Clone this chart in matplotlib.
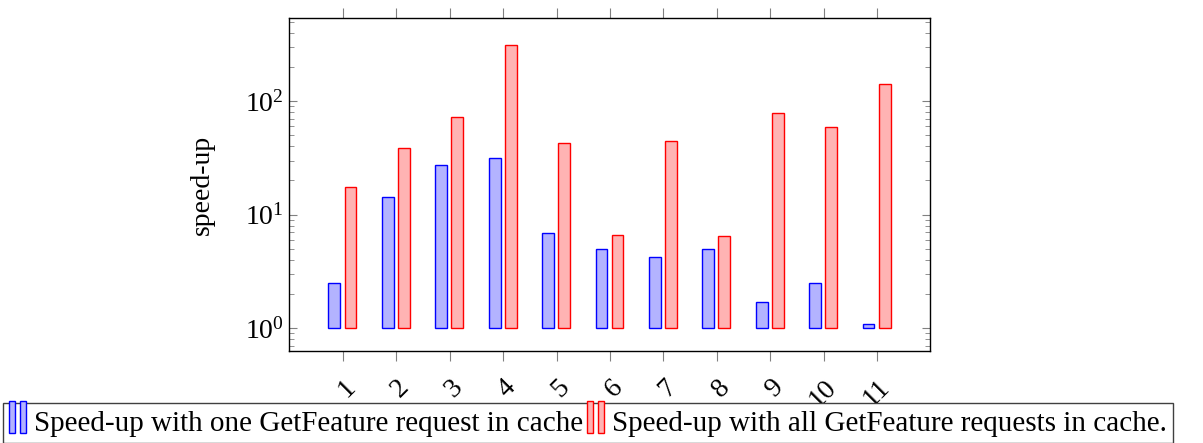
import matplotlib
matplotlib.use("Agg")
import matplotlib.pyplot as plt
from matplotlib.patches import Rectangle
from matplotlib.legend_handler import HandlerBase
from matplotlib.ticker import LogLocator, NullFormatter

queries = ["1", "2", "3", "4", "5", "6", "7", "8", "9", "10", "11"]
one_request = [2.5, 14.3, 27.3, 31.5, 6.9, 5.0, 4.2, 5.0, 1.7, 2.5, 1.1]
all_requests = [17.5, 39, 72, 311, 42.7, 6.6, 44.4, 6.5, 78, 59, 141]
labels = ["Speed-up with one GetFeature request in cache",
          "Speed-up with all GetFeature requests in cache."]

plt.rcParams['font.family'] = ['Liberation Serif', 'DejaVu Serif']
plt.rcParams['mathtext.fontset'] = 'stix'


class TwoBars(HandlerBase):
    # pgfplots-style ybar legend image: two little bars
    def create_artists(self, legend, orig, xd, yd, w, h, fs, trans):
        fc = orig.get_facecolor()
        ec = orig.get_edgecolor()
        out = []
        for x0 in (0.0, 0.55):
            r = Rectangle((xd + x0 * w, yd - 0.15 * h), 0.3 * w, 1.3 * h,
                          facecolor=fc, edgecolor=ec, lw=1.0, transform=trans)
            out.append(r)
        return out


fig = plt.figure(figsize=(12.03, 4.43), dpi=100)
ax = fig.add_axes([0.2402, 0.2077, 0.5329, 0.7517])

x = list(range(1, len(queries) + 1))
w = 0.22
b1 = ax.bar([i - 0.16 for i in x], [v - 1 for v in one_request], width=w, bottom=1,
            color='#b3b3ff', edgecolor='blue', lw=1.0)
b2 = ax.bar([i + 0.14 for i in x], [v - 1 for v in all_requests], width=w, bottom=1,
            color='#ffb3b3', edgecolor='red', lw=1.0)

ax.set_yscale('log')
ax.set_ylim(0.63, 540)
ax.set_xlim(-0.01, 11.99)
ax.set_xticks(x)
ax.set_xticklabels(queries, rotation=45, ha='right', rotation_mode='anchor', fontsize=20)
ax.yaxis.set_major_locator(LogLocator(base=10, numticks=10))
ax.yaxis.set_minor_locator(LogLocator(base=10, subs=range(2, 10), numticks=10))
ax.yaxis.set_minor_formatter(NullFormatter())
ax.tick_params(axis='y', which='both', direction='in', left=True, right=True,
               color='#808080', labelsize=20)
ax.tick_params(axis='y', which='major', length=6)
ax.tick_params(axis='y', which='minor', length=3.5)
ax.tick_params(axis='x', which='major', direction='out', top=True, bottom=True,
               length=7, color='#808080', pad=10)
ax.tick_params(axis='x', which='minor', top=False, bottom=False)
for s in ax.spines.values():
    s.set_linewidth(1.0)
ax.set_ylabel('speed-up', fontsize=20, labelpad=22)
ax.set_xlabel('queries', fontsize=20, labelpad=8)

fig.legend([b1.patches[0], b2.patches[0]], labels, ncol=2,
           loc='upper left', bbox_to_anchor=(3 / 1203, 1 - 403 / 443),
           handler_map={Rectangle: TwoBars()}, fontsize=21, frameon=True,
           fancybox=False, edgecolor='#404040', framealpha=1,
           handlelength=0.7, handleheight=0.9, handletextpad=0.15,
           columnspacing=0.15, borderpad=0.2, borderaxespad=0)

fig.savefig('out.png', dpi=100)
